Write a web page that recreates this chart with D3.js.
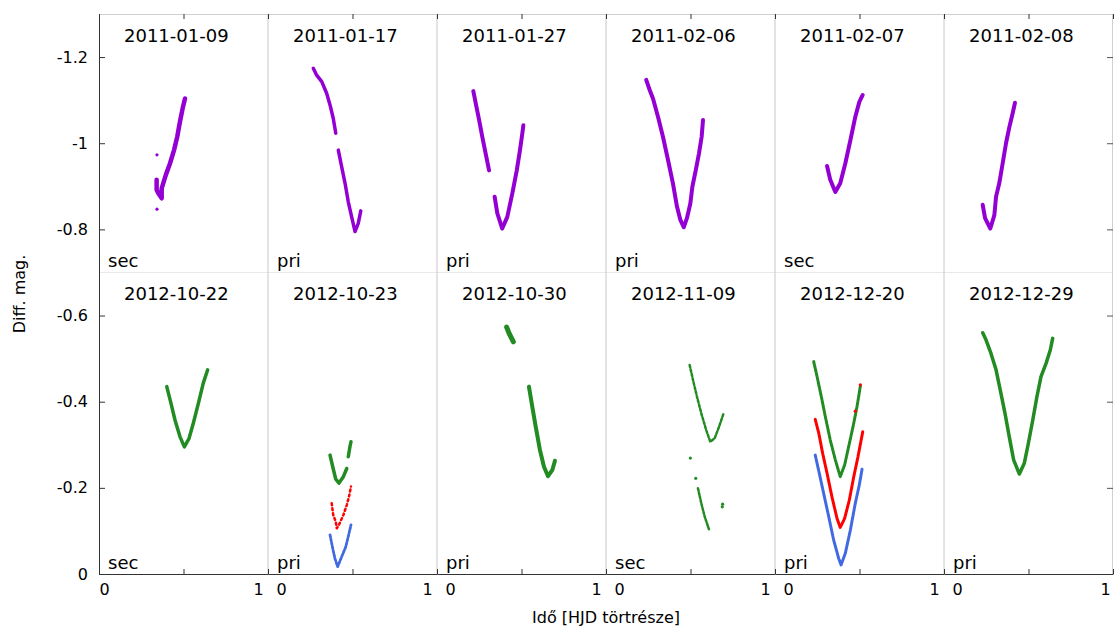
<!DOCTYPE html>
<html>
<head>
<meta charset="utf-8">
<script src="https://cdn.jsdelivr.net/npm/d3@7"></script>
<style>
  body { margin: 0; background: #fff; }
  text { font-family: "DejaVu Sans", sans-serif; }
</style>
</head>
<body>
<div id="chart"></div>
<script>
// Panelek: dátum és minimum típusa
const dates = ["2011-01-09", "2011-01-17", "2011-01-27", "2011-02-06", "2011-02-07", "2011-02-08",
               "2012-10-22", "2012-10-23", "2012-10-30", "2012-11-09", "2012-12-20", "2012-12-29"];
const kinds = ["sec", "pri", "pri", "pri", "sec", "sec", "sec", "pri", "pri", "sec", "pri", "pri"];
const yTicks = [-1.2, -1, -0.8, -0.6, -0.4, -0.2, 0];
const xTicks = [0, 0.5, 1];
const rowSplit = -0.7;

// [fázis, diff. mag.], null = szakadás
const p110109 = [[0.341, -0.915], [0.341, -0.892], [0.351, -0.884], [0.371, -0.872], [0.371, -0.895],
  [0.395, -0.926], [0.420, -0.953], [0.444, -0.984], [0.463, -1.015], [0.479, -1.050], [0.495, -1.081], [0.509, -1.104]];
const p110109out = [[0.343, -0.973], [0.343, -0.847]];
const p110117 = [[0.268, -1.174], [0.288, -1.158], [0.318, -1.143], [0.347, -1.116], [0.367, -1.089],
  [0.386, -1.058], [0.401, -1.023], null, [0.416, -0.984], [0.436, -0.945], [0.456, -0.907], [0.475, -0.864],
  [0.499, -0.822], [0.515, -0.795], [0.534, -0.814], [0.549, -0.843]];
const p110127 = [[0.215, -1.121], [0.229, -1.093], [0.249, -1.054], [0.268, -1.015], [0.288, -0.976],
  [0.308, -0.937], null, [0.341, -0.876], [0.357, -0.837], [0.386, -0.802], [0.416, -0.829], [0.446, -0.884],
  [0.472, -0.937], [0.491, -0.984], [0.505, -1.023], [0.511, -1.042]];
const p110206 = [[0.238, -1.147], [0.259, -1.123], [0.278, -1.104], [0.308, -1.061], [0.337, -1.015],
  [0.367, -0.961], [0.396, -0.907], [0.420, -0.853], [0.440, -0.822], [0.460, -0.805], [0.479, -0.826],
  [0.499, -0.860], [0.511, -0.899], [0.531, -0.937], [0.550, -0.976], [0.566, -1.015], [0.574, -1.054]];
const p110207 = [[0.308, -0.947], [0.327, -0.915], [0.357, -0.887], [0.386, -0.907], [0.416, -0.953],
  [0.446, -1.007], [0.475, -1.061], [0.499, -1.096], [0.519, -1.112]];
const p110208 = [[0.229, -0.857], [0.243, -0.826], [0.274, -0.802], [0.298, -0.833], [0.308, -0.876],
  [0.327, -0.907], [0.347, -0.953], [0.367, -1.000], [0.387, -1.038], [0.406, -1.069], [0.420, -1.094]];
const p121022 = [[0.401, -0.435], [0.426, -0.396], [0.450, -0.357], [0.479, -0.319], [0.505, -0.295],
  [0.533, -0.315], [0.558, -0.350], [0.588, -0.396], [0.617, -0.443], [0.643, -0.474]];
const p121023g = [[0.367, -0.276], [0.383, -0.249], [0.401, -0.220], [0.420, -0.211], [0.446, -0.226],
  [0.466, -0.245], null, [0.475, -0.272], [0.485, -0.296], [0.491, -0.307]];
const p121023r = [[0.377, -0.164], [0.386, -0.137], [0.401, -0.121], [0.407, -0.106], [0.420, -0.114],
  [0.446, -0.137], [0.466, -0.160], [0.479, -0.179], [0.491, -0.203]];
const p121023b = [[0.367, -0.091], [0.381, -0.063], [0.396, -0.036], [0.412, -0.017], [0.436, -0.040],
  [0.460, -0.063], [0.475, -0.087], [0.491, -0.114]];
const p121030a = [[0.412, -0.573], [0.426, -0.559], [0.452, -0.539]];
const p121030b = [[0.544, -0.435], [0.564, -0.388], [0.584, -0.342], [0.609, -0.288], [0.633, -0.249],
  [0.657, -0.227], [0.682, -0.241], [0.698, -0.263]];
const p121109a = [[0.495, -0.485], [0.515, -0.450], [0.538, -0.412], [0.564, -0.373], [0.593, -0.334],
  [0.617, -0.307], [0.643, -0.315], [0.669, -0.342], [0.696, -0.373]];
const p121109b = [[0.544, -0.199], [0.564, -0.164], [0.584, -0.133], [0.609, -0.104]];
const p121109dots = [[0.499, -0.269], [0.531, -0.222], [0.688, -0.156], [0.690, -0.162]];
const p121220g = [[0.229, -0.493], [0.249, -0.458], [0.274, -0.412], [0.298, -0.365], [0.327, -0.311],
  [0.357, -0.265], [0.386, -0.226], [0.412, -0.253], [0.440, -0.303], [0.466, -0.350], [0.485, -0.388], [0.505, -0.436]];
const p121220r = [[0.238, -0.359], [0.259, -0.327], [0.282, -0.280], [0.308, -0.234], [0.337, -0.179],
  [0.367, -0.129], [0.386, -0.108], [0.412, -0.129], [0.440, -0.172], [0.466, -0.226], [0.491, -0.272], [0.519, -0.330]];
const p121220rdots = [[0.505, -0.439], [0.475, -0.378]];
const p121220b = [[0.238, -0.276], [0.262, -0.234], [0.288, -0.187], [0.318, -0.133], [0.347, -0.079],
  [0.377, -0.036], [0.391, -0.021], [0.416, -0.048], [0.446, -0.102], [0.475, -0.164], [0.499, -0.207], [0.515, -0.243]];
const p121229 = [[0.229, -0.560], [0.249, -0.543], [0.278, -0.512], [0.308, -0.474], [0.333, -0.427],
  [0.361, -0.373], [0.386, -0.319], [0.412, -0.265], [0.446, -0.232], [0.475, -0.257], [0.499, -0.303],
  [0.525, -0.357], [0.550, -0.412], [0.574, -0.458], [0.604, -0.489], [0.629, -0.520], [0.643, -0.547]];

const purple = "#9400d3", green = "#228b22", red = "#ff0000", blue = "#4169e1";

// panel, szín, adat, vonalvastagság, pontozott?
const series = [
  { panel: 0, color: purple, data: p110109, w: 4.5 },
  { panel: 0, color: purple, data: p110109out, dots: true },
  { panel: 1, color: purple, data: p110117, w: 3.5 },
  { panel: 2, color: purple, data: p110127, w: 4 },
  { panel: 3, color: purple, data: p110206, w: 4 },
  { panel: 4, color: purple, data: p110207, w: 4 },
  { panel: 5, color: purple, data: p110208, w: 4 },
  { panel: 6, color: green, data: p121022, w: 3.5 },
  { panel: 7, color: green, data: p121023g, w: 3.5 },
  { panel: 7, color: red, data: p121023r, w: 2.5, dash: "2,3" },
  { panel: 7, color: blue, data: p121023b, w: 2.8, dash: "2.5,1.5" },
  { panel: 8, color: green, data: p121030a, w: 5 },
  { panel: 8, color: green, data: p121030b, w: 4 },
  { panel: 9, color: green, data: p121109a, w: 2.5, dash: "2.5,2" },
  { panel: 9, color: green, data: p121109b, w: 2.5, dash: "2.5,1.5" },
  { panel: 9, color: green, data: p121109dots, dots: true },
  { panel: 10, color: green, data: p121220g, w: 3, dash: "3,1" },
  { panel: 10, color: red, data: p121220r, w: 3, dash: "3,1" },
  { panel: 10, color: red, data: p121220rdots, dots: true },
  { panel: 10, color: blue, data: p121220b, w: 3, dash: "3,1" },
  { panel: 11, color: green, data: p121229, w: 3.5 }
];

const W = 1114, H = 628;
const margin = { top: 14, right: 1, bottom: 54, left: 99 };
const width = W - margin.left - margin.right,
  height = H - margin.top - margin.bottom;
const nCols = 6, colW = width / nCols;

const svg = d3.select("#chart").append("svg")
  .attr("width", W).attr("height", H)
  .append("g")
  .attr("transform", "translate(" + margin.left + "," + margin.top + ")");

const y = d3.scaleLinear().domain([0, -1.3]).range([height, 0]);
const xCol = d3.range(nCols).map(c =>
  d3.scaleLinear().domain([0, 1]).range([c * colW, (c + 1) * colW]));

// Keret és elválasztók
svg.append("line").attr("x1", 0).attr("x2", width).attr("y1", y(rowSplit)).attr("y2", y(rowSplit))
  .attr("stroke", "#e8e8e8");
for (let c = 1; c < nCols; c++) {
  svg.append("line").attr("x1", c * colW).attr("x2", c * colW).attr("y1", 0).attr("y2", height)
    .attr("stroke", "#c8c8c8");
}
svg.append("line").attr("x1", 0).attr("x2", width).attr("y1", 0.5).attr("y2", 0.5).attr("stroke", "#d0d0d0");
svg.append("line").attr("x1", width - 0.5).attr("x2", width - 0.5).attr("y1", 0).attr("y2", height).attr("stroke", "#d0d0d0");

// Y tengely
const yAxis = svg.append("g")
  .call(d3.axisLeft(y).tickValues(yTicks).tickSizeInner(-6).tickSizeOuter(0).tickPadding(11)
    .tickFormat(d => d === 0 ? "0" : String(d)));
yAxis.selectAll("text").style("font-size", "16px").attr("fill", "#000");
yAxis.select(".domain").attr("stroke", "#333");
yAxis.selectAll(".tick line").attr("stroke", "#333");

svg.append("g").attr("transform", "translate(" + width + ",0)")
  .call(d3.axisRight(y).tickValues(yTicks).tickSizeInner(-6).tickSizeOuter(0).tickFormat(""))
  .call(g => g.select(".domain").remove())
  .selectAll(".tick line").attr("stroke", "#555");

// X tengelyek oszloponként
xCol.forEach((xs, c) => {
  const bx = svg.append("g").attr("transform", "translate(0," + height + ")")
    .call(d3.axisBottom(xs).tickValues(xTicks).tickSizeInner(-5).tickSizeOuter(0).tickPadding(10)
      .tickFormat(d => d === 0.5 ? "" : d));
  bx.select(".domain").attr("stroke", "#333");
  bx.selectAll(".tick line").attr("stroke", "#333");
  bx.selectAll("text").style("font-size", "16px").attr("fill", "#000")
    .attr("dx", d => d === 0 ? (c === 0 ? 5 : 13) : (c === 5 ? -8 : -10));

  svg.append("g")
    .call(d3.axisTop(xs).tickValues(xTicks).tickSizeInner(-5).tickSizeOuter(0).tickFormat(""))
    .call(g => g.select(".domain").remove())
    .selectAll(".tick line").attr("stroke", "#333");
});

// Panel feliratok
const rowTop = [y(-1.3), y(rowSplit)];
const rowBottom = [y(rowSplit), y(0)];
dates.forEach((d, i) => {
  const r = Math.floor(i / nCols), c = i % nCols;
  svg.append("text")
    .attr("x", xCol[c](0) + 25).attr("y", rowTop[r] + 28)
    .style("font-size", "18px").text(d);
  if (!(r === 0 && c === 5)) {
    svg.append("text")
      .attr("x", xCol[c](0) + 9).attr("y", rowBottom[r] - 5)
      .style("font-size", "18px").text(kinds[i]);
  }
});

// Görbék
const line = d3.line().defined(d => d !== null);
series.forEach(s => {
  const c = s.panel % nCols, xs = xCol[c];
  if (s.dots) {
    svg.append("g").selectAll("circle").data(s.data).enter().append("circle")
      .attr("cx", d => xs(d[0])).attr("cy", d => y(d[1])).attr("r", 1.6).attr("fill", s.color);
    return;
  }
  line.x(d => xs(d[0])).y(d => y(d[1]));
  svg.append("path").datum(s.data)
    .attr("d", line)
    .attr("fill", "none")
    .attr("stroke", s.color)
    .attr("stroke-width", s.w)
    .attr("stroke-linecap", "round")
    .attr("stroke-linejoin", "round")
    .attr("stroke-dasharray", s.dash || null);
});

// Tengelycímek
svg.append("text")
  .attr("transform", "translate(" + (-74) + "," + height / 2 + ") rotate(-90)")
  .attr("text-anchor", "middle").style("font-size", "16px").text("Diff. mag.");
svg.append("text")
  .attr("x", width / 2).attr("y", height + 49)
  .attr("text-anchor", "middle").style("font-size", "16px").text("Idő [HJD törtrésze]");
</script>
</body>
</html>
